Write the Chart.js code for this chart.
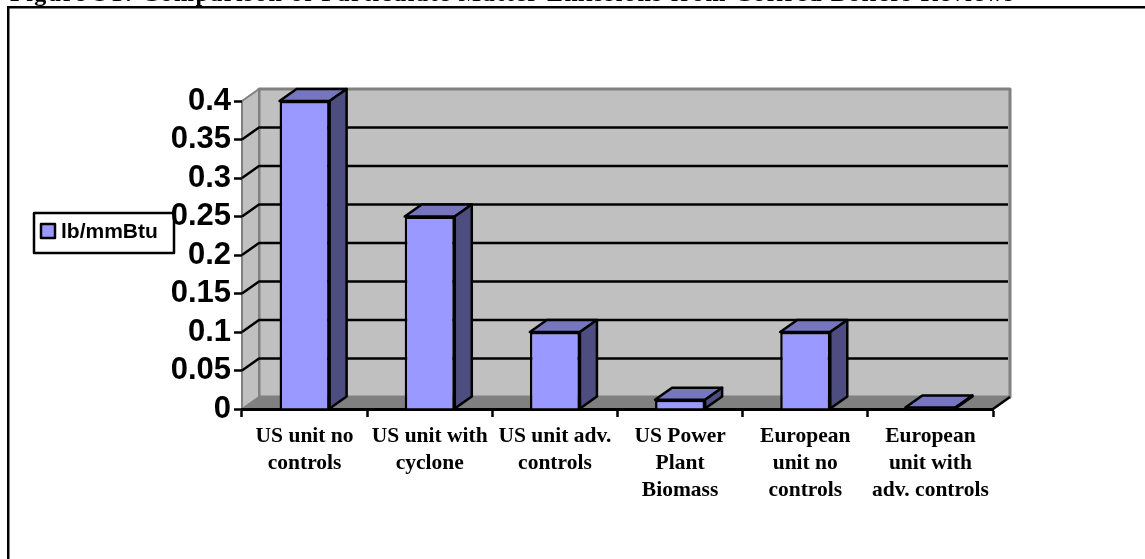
<!DOCTYPE html>
<html>
<head>
<meta charset="utf-8">
<title>lb/mmBtu</title>
<script src="https://cdn.jsdelivr.net/npm/chart.js@4/dist/chart.umd.min.js"></script>
<style>
html,body{margin:0;padding:0;background:#fff;overflow:hidden}
canvas{display:block}
</style>
</head>
<body>
<canvas id="chart" width="1145" height="559"></canvas>
<script>
const categories = [
  ['US unit no','controls'],
  ['US unit with','cyclone'],
  ['US unit adv.','controls'],
  ['US Power','Plant','Biomass'],
  ['European','unit no','controls'],
  ['European','unit with','adv. controls']
];
const seriesName = 'lb/mmBtu';
const values = [0.4, 0.25, 0.1, 0.012, 0.1, 0.002];
const titleText = 'Figure ST: Comparison of Particulate Matter Emissions from Cofired Boilers Reviews';

const DX = 17, DY = 12; // fake 3d depth

function poly(ctx, pts, fill, stroke, lw){
  ctx.beginPath();
  pts.forEach((p,i)=> i ? ctx.lineTo(p[0],p[1]) : ctx.moveTo(p[0],p[1]));
  ctx.closePath();
  if(fill){ ctx.fillStyle = fill; ctx.fill(); }
  if(stroke){ ctx.strokeStyle = stroke; ctx.lineWidth = lw || 2; ctx.lineJoin = 'round'; ctx.stroke(); }
}

const backdrop = {
  id:'backdrop',
  beforeDraw(chart){
    const {ctx, chartArea:a, scales:{y}} = chart;
    ctx.save();
    // clipped caption + page frame
    ctx.fillStyle = '#000';
    ctx.font = 'bold 24px "Liberation Serif"';
    ctx.letterSpacing = '1.5px';
    ctx.textAlign = 'left';
    ctx.textBaseline = 'alphabetic';
    ctx.fillText(titleText, 10, 0.5);
    ctx.letterSpacing = '0px';
    ctx.fillRect(7,6,1138,2.5);
    ctx.fillRect(7,6,2.5,553);

    // walls
    poly(ctx, [[a.left+DX,a.top-DY],[a.right+DX,a.top-DY],[a.right+DX,a.bottom-DY],[a.left+DX,a.bottom-DY]], '#C0C0C0', '#808080', 3);
    poly(ctx, [[a.left,a.top],[a.left+DX,a.top-DY],[a.left+DX,a.bottom-DY],[a.left,a.bottom]], '#C0C0C0', '#808080', 2);
    poly(ctx, [[a.left,a.bottom],[a.left+DX,a.bottom-DY],[a.right+DX,a.bottom-DY],[a.right,a.bottom]], '#808080', '#808080', 1);

    // grid on the walls
    ctx.strokeStyle = '#000';
    ctx.lineWidth = 2.5;
    y.ticks.forEach(t=>{
      if(t.value <= 0 || t.value >= 0.4) return;
      const py = y.getPixelForValue(t.value);
      ctx.beginPath();
      ctx.moveTo(a.left,py);
      ctx.lineTo(a.left+DX,py-DY);
      ctx.lineTo(a.right+DX-2,py-DY);
      ctx.stroke();
    });
    ctx.beginPath();
    ctx.moveTo(a.right,a.bottom);
    ctx.lineTo(a.right+DX,a.bottom-DY);
    ctx.stroke();

    // legend box
    ctx.fillStyle = '#fff';
    ctx.fillRect(34,213,140,40);
    ctx.strokeStyle = '#000';
    ctx.lineWidth = 2.5;
    ctx.strokeRect(34,213,140,40);
    ctx.fillStyle = '#9999FF';
    ctx.fillRect(41,224,14,14);
    ctx.strokeRect(41,224,14,14);
    ctx.fillStyle = '#000';
    ctx.font = 'bold 21px "Liberation Sans"';
    ctx.textBaseline = 'middle';
    ctx.fillText(seriesName, 61, 232);
    ctx.restore();
  }
};

const bars3d = {
  id:'bars3d',
  afterDatasetsDraw(chart){
    const {ctx} = chart;
    ctx.save();
    chart.getDatasetMeta(0).data.forEach(b=>{
      const w = b.width/2, l = b.x-w, r = b.x+w, t = b.y, bt = b.base;
      poly(ctx, [[l,t],[l+DX,t-DY],[r+DX,t-DY],[r,t]], '#7676BF', '#000', 2.5);
      poly(ctx, [[r,t],[r+DX,t-DY],[r+DX,bt-DY],[r,bt]], '#4D4D80', '#000', 2.5);
    });
    ctx.restore();
  }
};

new Chart(document.getElementById('chart'), {
  type:'bar',
  data:{
    labels:categories,
    datasets:[{
      label:seriesName,
      data:values,
      backgroundColor:'#9999FF',
      borderColor:'#000',
      borderWidth:2.5,
      barPercentage:0.4,
      categoryPercentage:1
    }]
  },
  options:{
    responsive:false,
    animation:false,
    layout:{padding:{top:101,right:152,left:0,bottom:0}},
    plugins:{legend:{display:false},title:{display:false},tooltip:{enabled:false}},
    scales:{
      x:{
        afterFit(s){ s.height = 150; },
        grid:{drawOnChartArea:false,tickLength:8,tickColor:'#000',tickWidth:2.5},
        border:{display:true,color:'#000',width:3},
        ticks:{
          color:'#000',maxRotation:0,minRotation:0,autoSkip:false,padding:6,
          font:{family:'"Liberation Serif"',size:21.5,weight:'bold',lineHeight:1.256}
        }
      },
      y:{
        min:0,max:0.4,
        afterFit(s){ s.width = 242; },
        grid:{drawOnChartArea:false,tickLength:8,tickColor:'#000',tickWidth:2.5},
        border:{display:false},
        ticks:{
          stepSize:0.05,autoSkip:false,color:'#000',padding:3,
          font:{family:'"Liberation Sans"',size:31,weight:'bold'},
          callback:v=>String(+v.toFixed(2))
        }
      }
    }
  },
  plugins:[backdrop,bars3d]
});
</script>
</body>
</html>
